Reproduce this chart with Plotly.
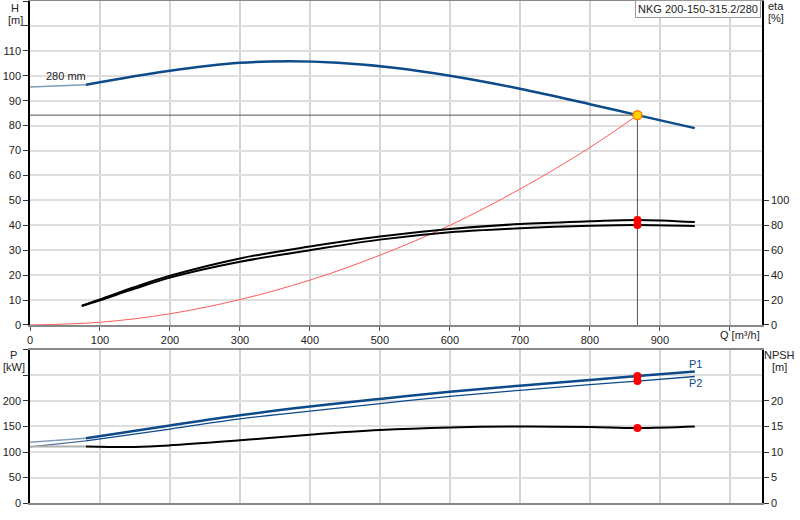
import plotly.graph_objects as go

# ── Data ──────────────────────────────────────────────────────────────────────
q_h = [80, 200, 300, 370, 440, 520, 600, 700, 800, 868, 950]
h = [96.4, 102, 105.2, 105.8, 105.2, 103.2, 100, 94.8, 88.6, 84.2, 79]
q_h_ext = [0, 80]
h_ext = [95.5, 96.4]

q_sys = [0, 100, 200, 300, 400, 500, 600, 700, 800, 868]
h_sys = [0, 1.1, 4.5, 10.2, 18, 28, 40, 54.5, 71.2, 84.2]

q_eta = [74, 100, 150, 200, 300, 400, 500, 600, 700, 800, 868, 950]
eta1 = [15.5, 20.5, 30.5, 39.5, 53.4, 63, 71, 77, 81, 83.2, 84.3, 82.6]
eta2 = [15.2, 19.8, 29.2, 38, 50.7, 60, 68.5, 74.4, 77.6, 79.6, 80.2, 79.4]

q_p = [80, 200, 300, 400, 500, 600, 700, 800, 868, 950]
p1 = [127, 152, 172, 189, 204, 218, 230, 241, 249, 258]
p2 = [122, 145, 165, 180, 195, 209, 221, 232, 239, 248]
q_p_ext = [0, 80]
p1_ext = [119, 127]
p2_ext = [110, 122]

q_npsh = [80, 150, 200, 300, 400, 500, 600, 700, 800, 868, 950]
npsh = [11.1, 11.0, 11.3, 12.3, 13.4, 14.3, 14.8, 15.0, 14.9, 14.7, 15.0]
q_npsh_ext = [0, 80]
npsh_ext = [11.1, 11.1]

q_duty = 868
h_duty = 84.2
eta_duty = [84.3, 80.2]
p_duty = [249, 239]
npsh_duty = 14.7

x_ticks = [0, 100, 200, 300, 400, 500, 600, 700, 800, 900, 1000]
h_ticks = list(range(0, 140, 10))
eta_ticks = [0, 20, 40, 60, 80, 100]
p_ticks = [0, 50, 100, 150, 200, 250, 300]
npsh_ticks = [0, 5, 10, 15, 20]

BLUE = '#0d4a8a'
FONT = 'Liberation Sans, Arial, sans-serif'

fig = go.Figure()

def line(x, y, color, width, xa='x', ya='y'):
    fig.add_trace(go.Scatter(x=x, y=y, mode='lines', xaxis=xa, yaxis=ya,
                             line=dict(color=color, width=width, shape='spline'),
                             hoverinfo='skip', showlegend=False))

# ── Top panel ─────────────────────────────────────────────────────────────────
line(q_h_ext, h_ext, '#7f9cbc', 1.5)
line(q_h, h, BLUE, 2.5)
line([0, q_duty], [h_duty, h_duty], '#555555', 1)
line([q_duty, q_duty], [h_duty, 0], '#555555', 1)
line(q_sys, h_sys, '#ff5a5a', 1)
line(q_eta, eta1, 'black', 2, ya='y2')
line(q_eta, eta2, 'black', 2, ya='y2')
fig.add_trace(go.Scatter(x=[q_duty, q_duty], y=eta_duty, mode='markers', yaxis='y2',
                         marker=dict(color='red', size=8), hoverinfo='skip', showlegend=False))
fig.add_trace(go.Scatter(x=[q_duty], y=[h_duty], mode='markers',
                         marker=dict(color='#ffd400', size=9, line=dict(color='#ff7a00', width=1.5)),
                         hoverinfo='skip', showlegend=False))

# ── Bottom panel ──────────────────────────────────────────────────────────────
line(q_npsh_ext, npsh_ext, '#b0b0b0', 2, xa='x2', ya='y4')
line(q_npsh, npsh, 'black', 2, xa='x2', ya='y4')
line(q_p_ext, p1_ext, '#7f9cbc', 1.5, xa='x2', ya='y3')
line(q_p_ext, p2_ext, '#4f6f99', 1.2, xa='x2', ya='y3')
line(q_p, p1, BLUE, 2.5, xa='x2', ya='y3')
line(q_p, p2, BLUE, 1.3, xa='x2', ya='y3')
fig.add_trace(go.Scatter(x=[q_duty, q_duty], y=p_duty, mode='markers', xaxis='x2', yaxis='y3',
                         marker=dict(color='red', size=8), hoverinfo='skip', showlegend=False))
fig.add_trace(go.Scatter(x=[q_duty], y=[npsh_duty], mode='markers', xaxis='x2', yaxis='y4',
                         marker=dict(color='red', size=8), hoverinfo='skip', showlegend=False))

# ── Axes ──────────────────────────────────────────────────────────────────────
top_dom = [0.3546, 1.0]
bot_dom = [0.0, 0.3048]
xrange = [0, 1046]
grid = '#dedede'
tickfont = dict(family=FONT, size=11, color='#222')

fig.update_layout(
    width=800, height=520,
    margin=dict(l=30, r=38, t=1, b=17),
    paper_bgcolor='white', plot_bgcolor='white',
    font=dict(family=FONT, size=11, color='#222'),
    xaxis=dict(domain=[0, 1], anchor='y', range=xrange, tickvals=x_ticks,
               ticktext=[str(v) for v in x_ticks[:-1]] + [''], automargin=False,
               showgrid=True, gridcolor='#d4d4d4', gridwidth=1.5, zeroline=False,
               showline=True, linecolor='#888', linewidth=2, mirror=True,
               ticks='outside', ticklen=4, tickcolor='#555', tickfont=tickfont),
    yaxis=dict(domain=top_dom, anchor='x', range=[0, 130], tickvals=h_ticks,
               ticktext=[str(v) if v <= 110 else '' for v in h_ticks], automargin=False,
               showgrid=True, gridcolor=grid, gridwidth=2, zeroline=False,
               showline=True, linecolor='black', linewidth=1.5,
               ticks='outside', ticklen=5, tickcolor='#333', tickfont=tickfont),
    yaxis2=dict(overlaying='y', side='right', anchor='x', range=[0, 260], tickvals=eta_ticks,
                showgrid=False, zeroline=False, showline=True, linecolor='black', linewidth=1.5,
                automargin=False,
                ticks='outside', ticklen=5, tickcolor='#333', tickfont=tickfont),
    xaxis2=dict(domain=[0, 1], anchor='y3', range=xrange, tickvals=x_ticks, showticklabels=False,
                showgrid=True, gridcolor='#d4d4d4', gridwidth=1.5, zeroline=False, automargin=False,
                showline=True, linecolor='#888', linewidth=2, mirror=True),
    yaxis3=dict(domain=bot_dom, anchor='x2', range=[0, 300], tickvals=p_ticks,
                ticktext=[str(v) if v <= 200 else '' for v in p_ticks], automargin=False,
                showgrid=True, gridcolor=grid, gridwidth=2, zeroline=False,
                showline=True, linecolor='black', linewidth=1.5,
                ticks='outside', ticklen=5, tickcolor='#333', tickfont=tickfont),
    yaxis4=dict(overlaying='y3', side='right', anchor='x2', range=[0, 30], tickvals=npsh_ticks,
                showgrid=False, zeroline=False, showline=True, linecolor='black', linewidth=1.5,
                automargin=False,
                ticks='outside', ticklen=5, tickcolor='#333', tickfont=tickfont),
)

# ── Labels (positions in page pixels, converted to plot-area paper coords) ────
def ann(text, xpx, ypx, color='#222', **kw):
    opts = dict(xanchor='center', yanchor='middle')
    opts.update(kw)
    fig.add_annotation(text=text, x=(xpx - 30) / 732, y=(503 - ypx) / 502,
                       xref='paper', yref='paper', showarrow=False,
                       font=dict(family=FONT, size=11, color=color), **opts)

ann('H', 15, 8)
ann('[m]', 15, 20)
ann('eta', 776, 6)
ann('[%]', 776, 18)
ann('P', 13, 355)
ann('[kW]', 14, 367)
ann('NPSH', 779, 355)
ann('[m]', 779, 367)
ann('280 mm', 66, 76)
ann('Q [m³/h]', 740, 335)
ann('P1', 695, 364, color=BLUE)
ann('P2', 695, 383, color=BLUE)
ann('NKG 200-150-315.2/280', 761, 9, xanchor='right',
    bgcolor='white', bordercolor='#999', borderwidth=1, borderpad=2)

# page has a default 8px body margin; drop it so the figure sits at the corner
fig.write_html("out.html", config={'displayModeBar': False},
               post_script="document.body.style.margin='0';")
